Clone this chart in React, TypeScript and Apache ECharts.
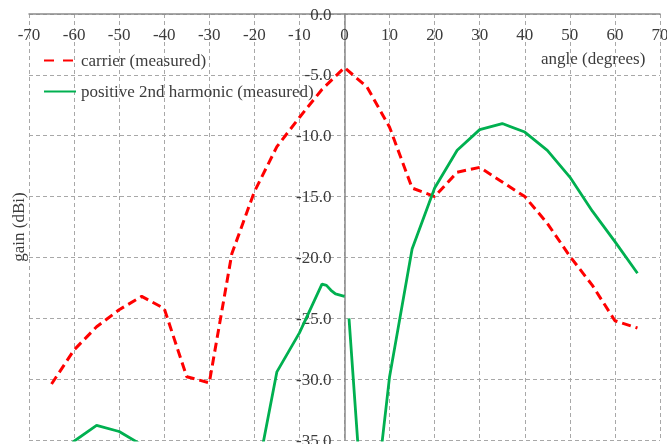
import { useEffect, useRef } from "react";
import * as echarts from "echarts";

// Measured antenna gain patterns (angle in degrees, gain in dBi)
const carrierAngles = [-65, -60, -55, -50, -45, -40, -35, -30, -25, -20, -15, -10, -5, 0, 5, 10, 15, 20, 25, 30, 35, 40, 45, 50, 55, 60, 65];
const carrierGain = [-30.4, -27.6, -25.7, -24.3, -23.2, -24.2, -29.8, -30.3, -19.7, -14.6, -10.9, -8.5, -6.2, -4.4, -6.0, -9.3, -14.3, -15.0, -13.0, -12.6, -13.8, -15.0, -17.2, -19.9, -22.3, -25.2, -25.8];

// The harmonic trace is recorded in two pieces with a break just right of boresight
const harmonicLeftAngles = [-65, -60, -55, -50, -45, -20, -15, -10, -5, -4, -3, -2, -1, 0];
const harmonicLeftGain = [-37.5, -35.1, -33.8, -34.3, -35.4, -39.0, -29.4, -26.2, -22.2, -22.3, -22.7, -23.0, -23.1, -23.2];
const harmonicRightAngles = [1, 5, 10, 15, 20, 25, 30, 35, 40, 45, 50, 55, 60, 65];
const harmonicRightGain = [-25.0, -46.0, -29.8, -19.3, -14.3, -11.2, -9.5, -9.0, -9.7, -11.2, -13.4, -16.2, -18.7, -21.3];

const CARRIER = "carrier (measured)";
const HARMONIC = "positive 2nd harmonic (measured)";
const X_NAME = "angle (degrees)";
const Y_NAME = "gain (dBi)";

const FONT = "'Liberation Serif', 'Times New Roman', serif";
const TEXT = "#3c3c3c";
const RED = "#ff0000";
const GREEN = "#00b050";

const WIDTH = 667;
const HEIGHT = 444;
const GRID = { left: 29, right: 7, top: 14, bottom: 4 };
const X_MIN = -70;
const X_MAX = 70;

const pairs = (xs: number[], ys: number[]) => xs.map((x, i) => [x, ys[i]]);

export default function App() {
  const ref = useRef<HTMLDivElement>(null);

  useEffect(() => {
    if (!ref.current) return;
    const chart = echarts.init(ref.current, null, { renderer: "svg" });
    const gridLine = { show: true, lineStyle: { color: "#a8a8a8", type: [4, 3] as number[], width: 1 } };
    const axisLineStyle = { color: "#8a8a8a", width: 1.5 };
    // shift the vertical axis (line and labels) from the grid's left edge to angle 0
    const plotWidth = WIDTH - GRID.left - GRID.right;
    const zeroOffset = (plotWidth * (0 - X_MIN)) / (X_MAX - X_MIN);
    chart.setOption({
      animation: false,
      textStyle: { fontFamily: FONT },
      grid: { ...GRID, containLabel: false, outerBoundsMode: "none" },
      xAxis: {
        type: "value",
        position: "top",
        min: X_MIN,
        max: X_MAX,
        interval: 10,
        axisLine: { show: true, onZero: false, lineStyle: axisLineStyle },
        axisTick: { show: false },
        axisLabel: { inside: true, margin: 12, color: TEXT, fontFamily: FONT, fontSize: 17 },
        splitLine: gridLine,
      },
      yAxis: {
        type: "value",
        min: -35,
        max: 0,
        interval: 5,
        offset: -zeroOffset,
        axisLine: { show: true, onZero: false, lineStyle: axisLineStyle },
        axisTick: { show: false },
        axisLabel: {
          margin: 13,
          color: TEXT,
          fontFamily: FONT,
          fontSize: 17,
          formatter: (v: number) => v.toFixed(1),
        },
        splitLine: gridLine,
      },
      legend: {
        orient: "vertical",
        left: 43,
        top: 52,
        padding: 0,
        itemWidth: 32,
        itemHeight: 14,
        itemGap: 14,
        itemStyle: { opacity: 0 },
        textStyle: { color: TEXT, fontFamily: FONT, fontSize: 17 },
        data: [
          { name: CARRIER, lineStyle: { type: [10, 9] } },
          { name: HARMONIC },
        ],
      },
      graphic: [
        {
          type: "text",
          left: 541,
          top: 50,
          style: { text: X_NAME, fill: TEXT, font: `17px ${FONT}` },
        },
        {
          type: "text",
          x: 18,
          y: 227,
          rotation: Math.PI / 2,
          style: { text: Y_NAME, fill: TEXT, font: `17px ${FONT}`, align: "center", verticalAlign: "middle" },
        },
      ],
      series: [
        {
          type: "line",
          name: CARRIER,
          data: pairs(carrierAngles, carrierGain),
          symbol: "none",
          clip: true,
          itemStyle: { color: RED },
          lineStyle: { color: RED, width: 3, type: [9, 5] },
        },
        {
          type: "line",
          name: HARMONIC,
          data: pairs(harmonicLeftAngles, harmonicLeftGain),
          symbol: "none",
          clip: true,
          itemStyle: { color: GREEN },
          lineStyle: { color: GREEN, width: 2.8 },
        },
        {
          type: "line",
          name: HARMONIC,
          data: pairs(harmonicRightAngles, harmonicRightGain),
          symbol: "none",
          clip: true,
          itemStyle: { color: GREEN },
          lineStyle: { color: GREEN, width: 2.8 },
        },
      ],
    });
    return () => chart.dispose();
  }, []);

  return <div ref={ref} style={{ position: "fixed", left: 0, top: 0, width: WIDTH, height: HEIGHT }} />;
}
